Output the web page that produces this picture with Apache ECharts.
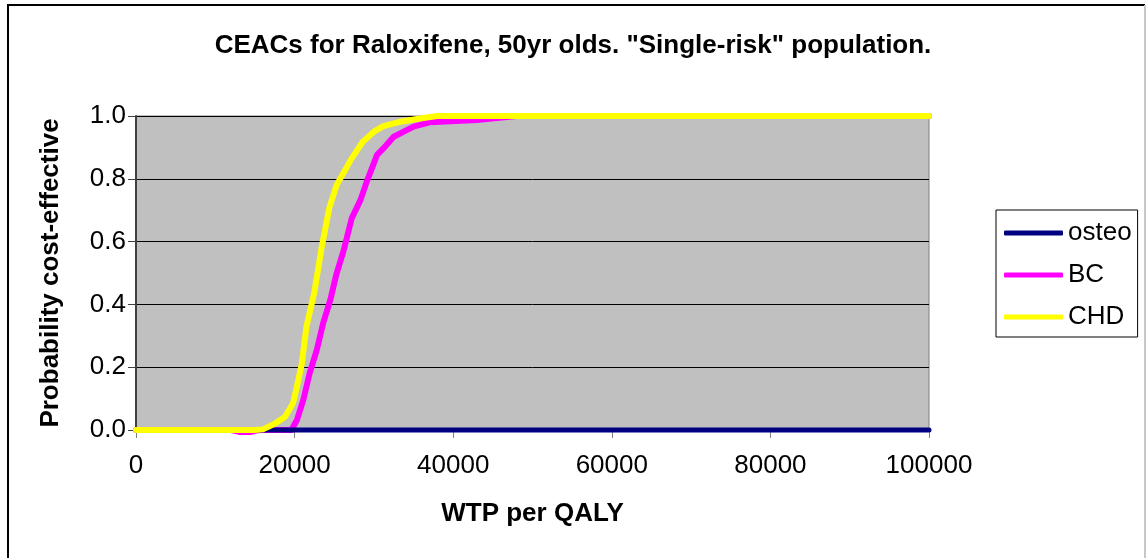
<!DOCTYPE html>
<html>
<head>
<meta charset="utf-8">
<script src="https://cdn.jsdelivr.net/npm/echarts@6/dist/echarts.min.js"></script>
<style>
  html, body { margin: 0; padding: 0; background: #fff; }
  #chart { width: 1146px; height: 558px; }
</style>
</head>
<body>
<div id="chart"></div>
<script>
// values
const osteoWtp = [0, 20000, 40000, 60000, 80000, 100000]
const osteoProb = [0, 0, 0, 0, 0, 0]

const bcWtp = [0, 12000, 13000, 14500, 15500, 16000, 19600, 20300, 21100, 21900, 22800, 23600, 24500, 25300, 26200, 27200, 28300, 29100, 30400, 31500, 32500, 35000, 37000, 43000, 48000, 100000]
const bcProb = [0, 0, -0.006, -0.006, 0, 0, 0, 0.032, 0.096, 0.181, 0.255, 0.34, 0.414, 0.499, 0.573, 0.674, 0.732, 0.791, 0.876, 0.905, 0.934, 0.966, 0.98, 0.987, 1.0, 1.0]

const chdWtp = [0, 12000, 15000, 16000, 17500, 18800, 19800, 20300, 20900, 21500, 22500, 23400, 24400, 25300, 26200, 27200, 28600, 30000, 31200, 33000, 36000, 38000, 50000, 100000]
const chdProb = [0, 0, 0, 0.002, 0.02, 0.042, 0.085, 0.14, 0.21, 0.33, 0.44, 0.58, 0.71, 0.78, 0.82, 0.865, 0.918, 0.95, 0.968, 0.98, 0.993, 1.0, 1.0, 1.0]

const pairs = (xs, ys) => xs.map((x, i) => [x, ys[i]])

const font = '"Liberation Sans", Arial, sans-serif'
const chart = echarts.init(document.getElementById('chart'))

function lineSeries(name, xs, ys, color, width, z) {
  return {
    name,
    type: 'line',
    data: pairs(xs, ys),
    showSymbol: false,
    symbol: 'none',
    clip: false,
    z,
    lineStyle: { color, width, cap: 'round', join: 'round' },
    itemStyle: { color },
  }
}

chart.setOption({
  animation: false,
  backgroundColor: '#fff',
  title: {
    text: 'CEACs for Raloxifene, 50yr olds. "Single-risk" population.',
    left: 'center',
    top: 28,
    textStyle: { fontFamily: font, fontSize: 26, fontWeight: 'bold', color: '#000' },
  },
  legend: {
    orient: 'vertical',
    left: 996,
    top: 210,
    data: ['osteo', 'BC', 'CHD'],
    icon: 'roundRect',
    itemWidth: 59,
    itemHeight: 5,
    itemGap: 16,
    padding: [10, 6, 7, 8],
    borderColor: '#000',
    borderWidth: 1,
    textStyle: { fontFamily: font, fontSize: 26, color: '#000' },
  },
  grid: {
    left: 136,
    right: 217,
    top: 116,
    bottom: 128,
    show: true,
    backgroundColor: '#C0C0C0',
    borderColor: '#808080',
    borderWidth: 1,
  },
  xAxis: {
    type: 'value',
    min: 0,
    max: 100000,
    interval: 20000,
    name: 'WTP per QALY',
    nameLocation: 'middle',
    nameGap: 71,
    nameTextStyle: { fontFamily: font, fontSize: 26, fontWeight: 'bold', color: '#000' },
    axisLine: { show: true, onZero: false, lineStyle: { color: '#808080', width: 1 } },
    axisTick: { show: true, length: 8, lineStyle: { color: '#808080' } },
    axisLabel: {
      margin: 23,
      fontFamily: font,
      fontSize: 26,
      color: '#000',
      formatter: (v) => String(v),
    },
    splitLine: { show: false },
  },
  yAxis: {
    type: 'value',
    min: 0,
    max: 1,
    interval: 0.2,
    name: 'Probability cost-effective',
    nameLocation: 'middle',
    nameGap: 72,
    nameTextStyle: { fontFamily: font, fontSize: 26, fontWeight: 'bold', color: '#000' },
    axisLine: { show: true, lineStyle: { color: '#404040', width: 2 } },
    axisTick: { show: true, length: 8, lineStyle: { color: '#404040' } },
    axisLabel: {
      margin: 10,
      fontFamily: font,
      fontSize: 26,
      color: '#000',
      formatter: (v) => v.toFixed(1),
    },
    splitLine: { show: true, lineStyle: { color: '#000', width: 1 } },
  },
  graphic: [
    {
      type: 'polyline',
      shape: { points: [[8, 558], [8, 5], [1145, 5]] },
      style: { stroke: '#000', lineWidth: 2, fill: null },
      silent: true,
    },
    {
      type: 'line',
      shape: { x1: 1145, y1: 5, x2: 1145, y2: 558 },
      style: { stroke: '#c8c8c8', lineWidth: 2 },
      silent: true,
    },
  ],
  series: [
    lineSeries('osteo', osteoWtp, osteoProb, '#000080', 5, 3),
    lineSeries('BC', bcWtp, bcProb, '#FF00FF', 6, 2),
    lineSeries('CHD', chdWtp, chdProb, '#FFFF00', 6, 4),
  ],
})
</script>
</body>
</html>
